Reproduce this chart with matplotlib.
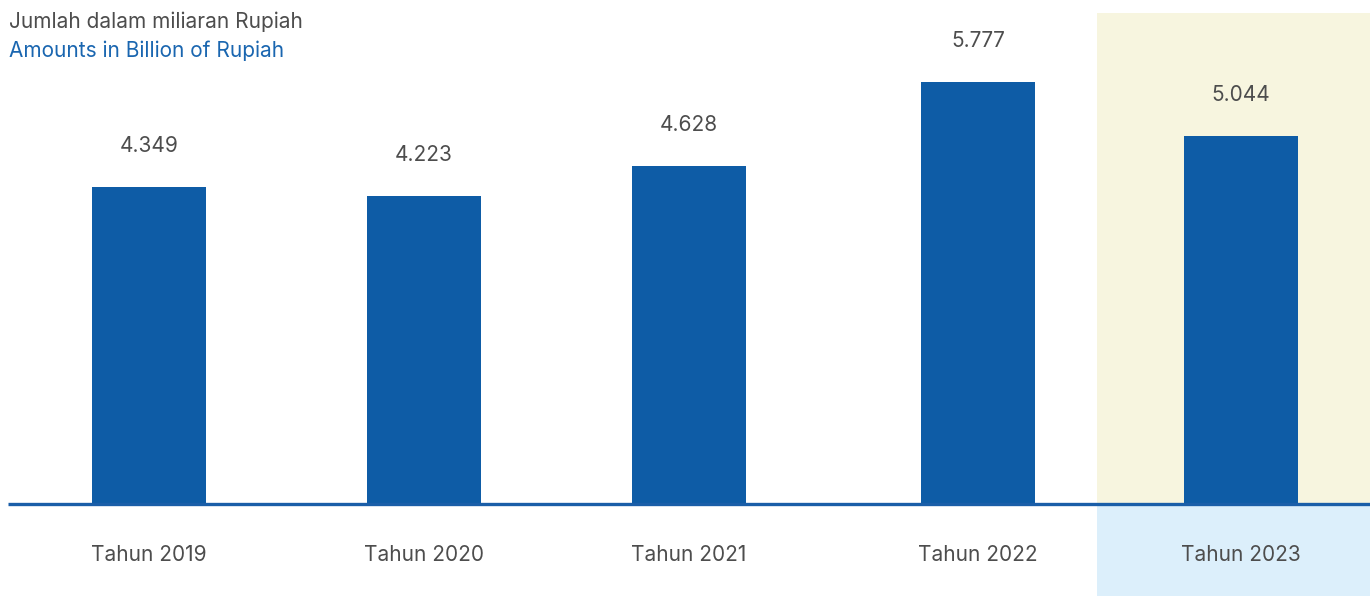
import matplotlib
matplotlib.use('Agg')
import matplotlib.pyplot as plt

# amounts in billion of Rupiah per year
years = ['Tahun 2019', 'Tahun 2020', 'Tahun 2021', 'Tahun 2022', 'Tahun 2023']
amounts = [4.349, 4.223, 4.628, 5.777, 5.044]

# bar centres (slightly uneven spacing)
x_pos = [0, 1.007, 1.978, 3.037, 4]

bar_color = '#0E5CA6'
text_grey = '#4D4D4D'

plt.rcParams['font.family'] = ['Inter', 'DejaVu Sans']

fig = plt.figure(figsize=(13.7, 5.96), dpi=100)
ax = fig.add_axes([0, 0, 1, 1])

px_x = 273.0   # pixels per x unit
px_y = 73.0    # pixels per y unit
x0 = -149 / px_x
x1 = (1370 - 149) / px_x
y0 = -(596 - 504) / px_y
y1 = 504 / px_y
ax.set_xlim(x0, x1)
ax.set_ylim(y0, y1)
ax.axis('off')

# highlight the latest year
hl_left = (1097 - 149) / px_x
ax.fill_between([hl_left, x1], 0, (504 - 13) / px_y, color='#F7F5DF', lw=0, zorder=0)
ax.fill_between([hl_left, x1], y0, 0, color='#DCEFFB', lw=0, zorder=0)

ax.bar(x_pos, amounts, width=114 / px_x, color=bar_color, zorder=2)

# baseline
ax.plot([x0 + 8 / px_x, x1], [0, 0], color='#1A5EA8', lw=2.4, zorder=3,
        solid_capstyle='butt')

for x, v, yr in zip(x_pos, amounts, years):
    ax.text(x, v + 41 / px_y, f'{v:.3f}', ha='center', va='center',
            fontsize=15, color=text_grey)
    ax.text(x, -51 / px_y, yr, ha='center', va='center',
            fontsize=15, color=text_grey)

fig.text(9 / 1370, 1 - 22 / 596, 'Jumlah dalam miliaran Rupiah', ha='left',
         va='center', fontsize=15, color=text_grey)
fig.text(9 / 1370, 1 - 51 / 596, 'Amounts in Billion of Rupiah', ha='left',
         va='center', fontsize=15, color='#1A66B0')

fig.savefig('out.png', dpi=100)
